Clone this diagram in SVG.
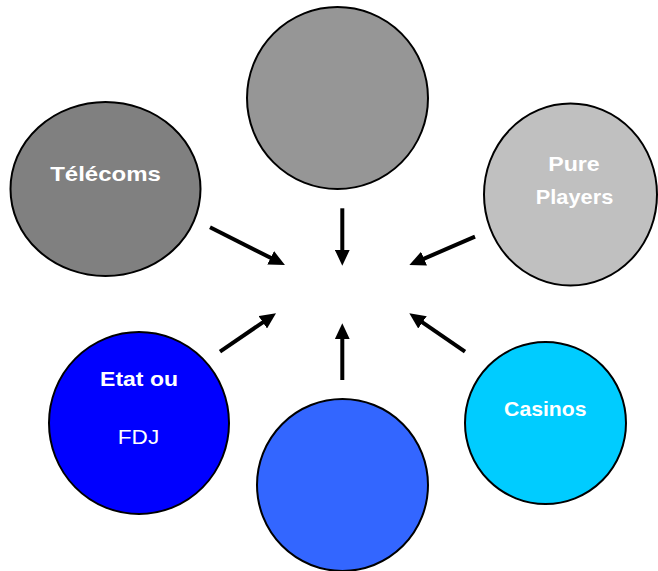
<svg xmlns="http://www.w3.org/2000/svg" width="658" height="571" viewBox="0 0 658 571">
<style>
.n{stroke:#000;stroke-width:2}
.t{font-family:"Liberation Sans",Arial,sans-serif;font-size:20px;fill:#fff;text-anchor:middle}
.b{font-weight:bold}
.c{stroke:#000;stroke-width:4;fill:none;marker-end:url(#ah)}
</style>
<defs>
<marker id="ah" markerUnits="userSpaceOnUse" markerWidth="16" markerHeight="15" refX="8" refY="7.5" orient="auto">
<path d="M0,0 L16,7.5 L0,15 z" fill="#000"/>
</marker>
</defs>
<rect width="658" height="571" fill="#fff"/>
<g id="top"><ellipse class="n" cx="337.5" cy="98" rx="90.5" ry="91" fill="#969696"/></g>
<g id="telecoms"><ellipse class="n" cx="105.5" cy="189" rx="95" ry="87" fill="#808080"/>
<text class="t b" transform="translate(105.5,181) scale(1.2,1)">Télécoms</text></g>
<g id="pureplayers"><ellipse class="n" cx="570.5" cy="194.5" rx="86.5" ry="91" fill="#C0C0C0"/>
<text class="t b" transform="translate(574,171.3) scale(1.16,1)">Pure</text>
<text class="t b" transform="translate(574.5,204) scale(1.09,1)">Players</text></g>
<g id="etat"><ellipse class="n" cx="139" cy="423" rx="90" ry="91" fill="#0000FF"/>
<text class="t b" transform="translate(139,386.3) scale(1.15,1)">Etat ou</text>
<text class="t" transform="translate(138.5,443.5) scale(1.13,1)">FDJ</text></g>
<g id="bottom"><ellipse class="n" cx="342.5" cy="485" rx="85.5" ry="86" fill="#3366FF"/></g>
<g id="casinos"><ellipse class="n" cx="545.5" cy="423" rx="80.5" ry="81" fill="#00CCFF"/>
<text class="t b" transform="translate(545.3,415.6) scale(1.06,1)">Casinos</text></g>
<g id="connectors">
<line class="c" x1="210" y1="227.3" x2="277.8" y2="261.4"/>
<line class="c" x1="342.3" y1="208.3" x2="342.3" y2="257.7"/>
<line class="c" x1="475" y1="236.7" x2="416.7" y2="261.8"/>
<line class="c" x1="220" y1="351.7" x2="269.4" y2="317.8"/>
<line class="c" x1="342.3" y1="380" x2="342.3" y2="331.3"/>
<line class="c" x1="465" y1="351.7" x2="415.9" y2="317.8"/>
</g>
</svg>
